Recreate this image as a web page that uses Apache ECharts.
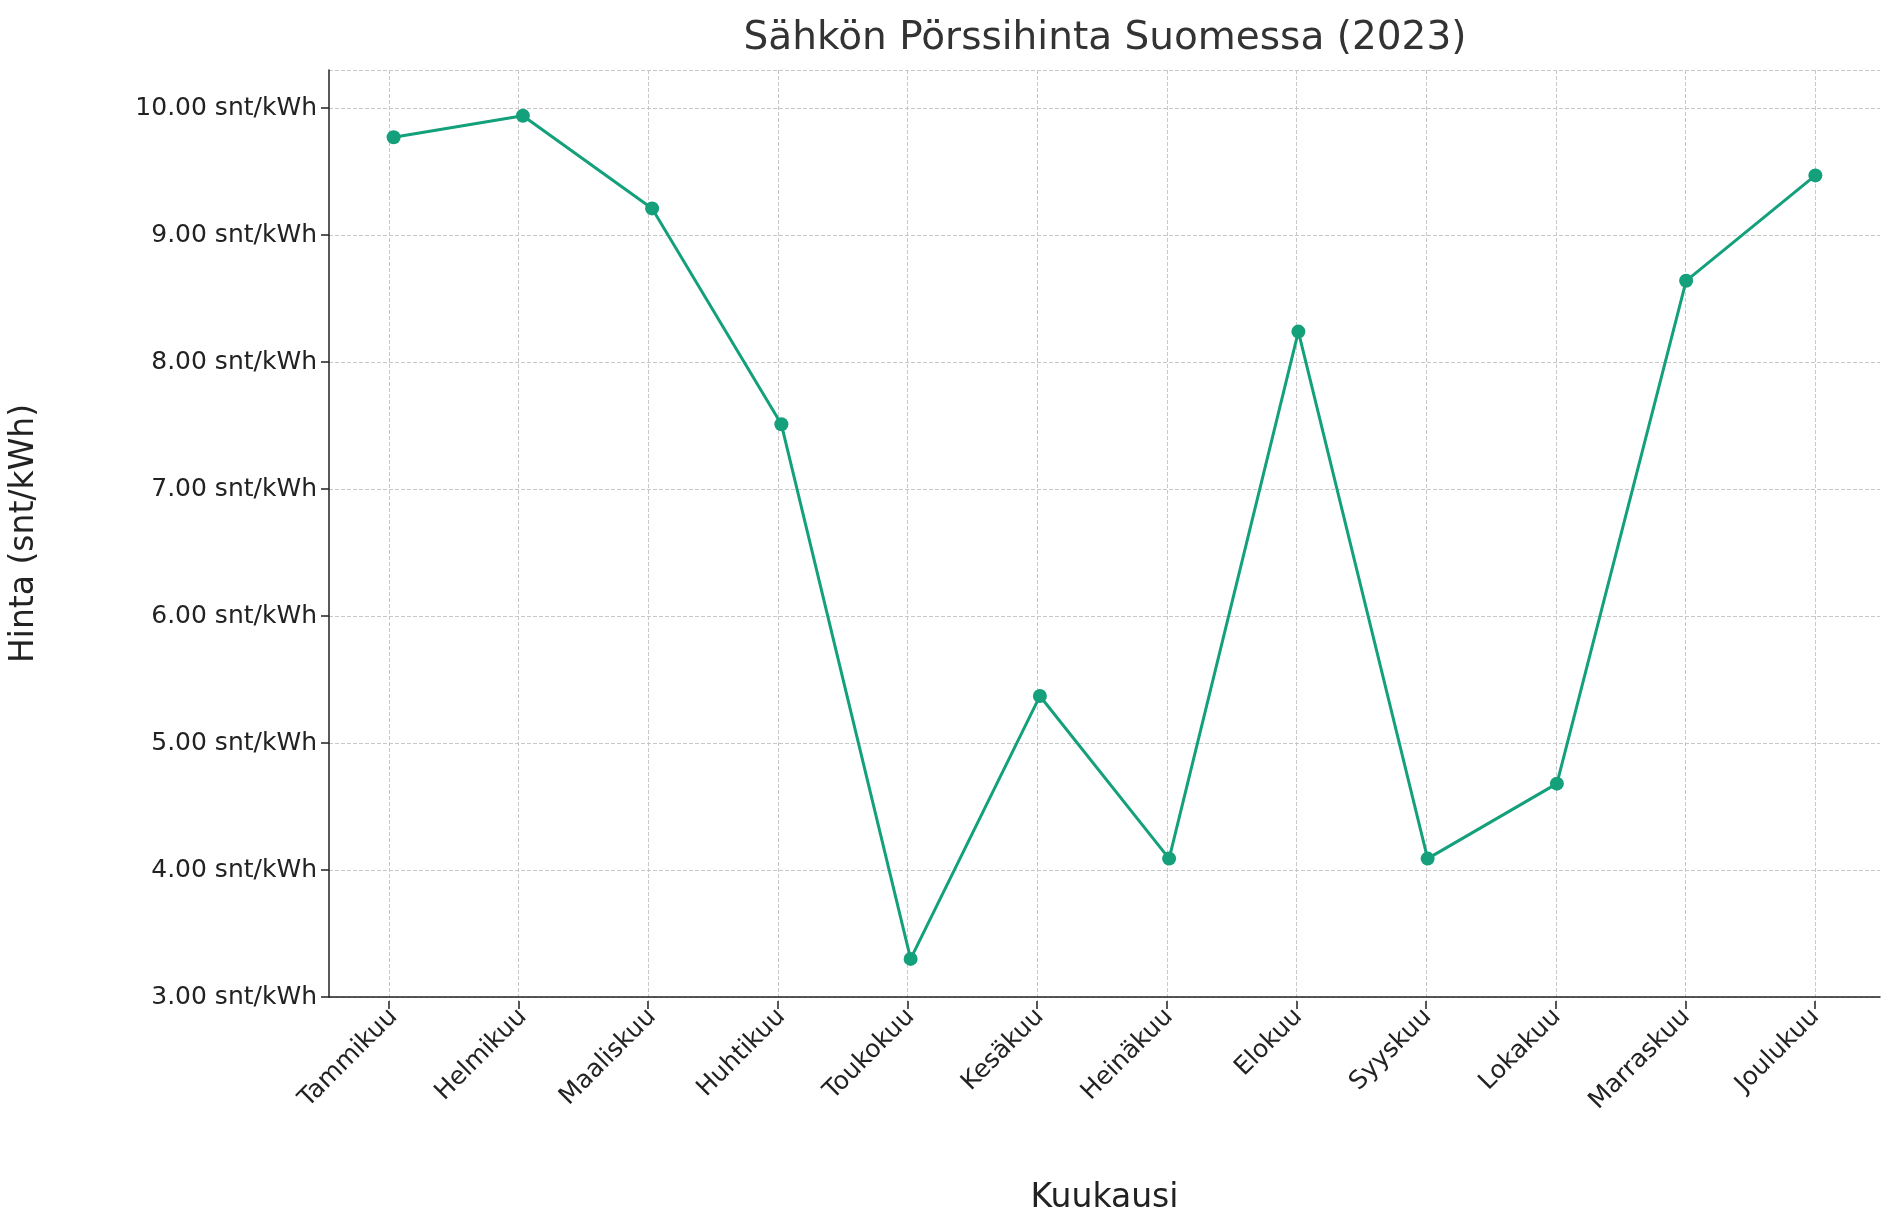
<!DOCTYPE html>
<html>
<head>
<meta charset="utf-8">
<script src="https://cdn.jsdelivr.net/npm/echarts@6/dist/echarts.min.js"></script>
<style>html,body{margin:0;padding:0;background:#fff}#chart{width:1891px;height:1220px}</style>
</head>
<body>
<div id="chart"></div>
<script>
const months = ['Tammikuu', 'Helmikuu', 'Maaliskuu', 'Huhtikuu', 'Toukokuu', 'Kesäkuu',
  'Heinäkuu', 'Elokuu', 'Syyskuu', 'Lokakuu', 'Marraskuu', 'Joulukuu'];
const prices = [9.77, 9.94, 9.21, 7.51, 3.30, 5.37, 4.09, 8.24, 4.09, 4.68, 8.64, 9.47];

const chart = echarts.init(document.getElementById('chart'));
const font = 'DejaVu Sans';
const grid = { left: 324, right: 11, top: 70, bottom: 219 };
const half = (1891 - grid.left - grid.right) / 24;
chart.setOption({
  title: {
    text: 'Sähkön Pörssihinta Suomessa (2023)', left: 1100, top: 14, textAlign: 'center',
    textStyle: { fontFamily: font, fontSize: 39, fontWeight: 'normal', color: '#333' }
  },
  grid: [grid, { left: grid.left + half, right: grid.right + half, top: grid.top, bottom: grid.bottom }],
  xAxis: [{
    type: 'category', data: months, boundaryGap: true, gridIndex: 0,
    name: 'Kuukausi', nameLocation: 'middle', nameGap: 185,
    nameTextStyle: { fontFamily: font, fontSize: 33, color: '#222' },
    axisLine: { lineStyle: { color: '#222', width: 1.5 } },
    axisTick: { show: false },
    axisLabel: { rotate: 45, fontFamily: font, fontSize: 25, color: '#222', margin: 16 },
    splitLine: { show: false }
  }, {
    type: 'value', gridIndex: 1, min: 0, max: 11, interval: 1,
    axisLine: { show: false },
    axisTick: { show: true, length: 8, lineStyle: { color: '#222', width: 1.5 } },
    axisLabel: { show: false },
    splitLine: { show: true, lineStyle: { color: '#c8c8c8', type: 'dashed' } }
  }],
  yAxis: [{
    type: 'value', min: 3, max: 10.3, interval: 1, gridIndex: 0,
    name: 'Hinta (snt/kWh)', nameLocation: 'middle', nameGap: 288,
    nameTextStyle: { fontFamily: font, fontSize: 33, color: '#222' },
    axisLine: { show: true, lineStyle: { color: '#222', width: 1.5 } },
    axisTick: { show: true, length: 8, lineStyle: { color: '#222', width: 1.5 } },
    axisLabel: {
      fontFamily: font, fontSize: 25, color: '#222', showMaxLabel: false, margin: 12,
      formatter: v => v.toFixed(2) + ' snt/kWh'
    },
    splitLine: { show: true, lineStyle: { color: '#c8c8c8', type: 'dashed' } }
  }, {
    type: 'value', gridIndex: 1, min: 3, max: 10.3, show: false
  }],
  series: [{
    type: 'line', data: prices, symbol: 'circle', symbolSize: 14,
    xAxisIndex: 0, yAxisIndex: 0, z: 5,
    lineStyle: { color: '#13a07a', width: 3 }, itemStyle: { color: '#13a07a' }
  }]
});
</script>
</body>
</html>
